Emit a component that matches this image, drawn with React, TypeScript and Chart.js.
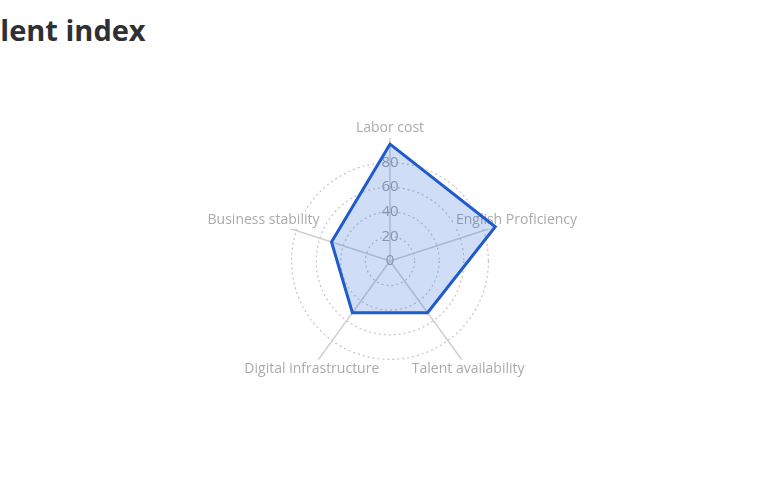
import React, { useEffect, useRef } from "react";
import { Chart, registerables } from "chart.js";

Chart.register(...registerables);

const TITLE = "Talent index";
const categories = [
  "Labor cost",
  "English Proficiency",
  "Talent availability",
  "Digital infrastructure",
  "Business stability",
];
const values = [95, 90, 52, 52, 50];
const scaleMin = 0;
const scaleMax = 100;
const scaleStep = 20;

const LABEL_FONT = '"Open Sans", sans-serif';

const pointLabelPlugin = {
  id: "centeredPointLabels",
  beforeDatasetsDraw(chart: any) {
    const scale = chart.scales.r;
    const ctx = chart.ctx;
    ctx.save();
    // zero tick at the centre
    ctx.font = `15px ${LABEL_FONT}`;
    ctx.fillStyle = "#a3a3a3";
    ctx.textAlign = "center";
    ctx.textBaseline = "middle";
    ctx.fillText(String(scaleMin), scale.xCenter, scale.yCenter);

    ctx.font = `14px ${LABEL_FONT}`;
    categories.forEach((label, i) => {
      const p = scale.getPointPosition(i, scale.drawingArea + 10);
      const w = ctx.measureText(label).width;
      ctx.fillStyle = "#ffffff";
      ctx.fillRect(p.x - w / 2 - 2, p.y - 9, w + 4, 18);
      ctx.fillStyle = "#ababab";
      ctx.fillText(label, p.x, p.y);
    });
    ctx.restore();
  },
};

export default function App() {
  const ref = useRef<HTMLCanvasElement | null>(null);

  useEffect(() => {
    if (!ref.current) return;
    const chart = new Chart(ref.current, {
      type: "radar",
      data: {
        labels: categories,
        datasets: [
          {
            data: values,
            backgroundColor: "rgba(37, 99, 220, 0.22)",
            borderColor: "#1f5bcc",
            borderWidth: 3,
            pointRadius: 0,
            pointHoverRadius: 0,
            fill: true,
          },
        ],
      },
      options: {
        animation: false,
        responsive: true,
        maintainAspectRatio: false,
        layout: { padding: { top: 128, bottom: 106, left: 0, right: 0 } },
        plugins: {
          legend: { display: false },
          tooltip: { enabled: false },
        },
        scales: {
          r: {
            min: scaleMin,
            max: scaleMax,
            ticks: {
              stepSize: scaleStep,
              showLabelBackdrop: false,
              color: "#a3a3a3",
              font: { size: 15, family: LABEL_FONT },
              callback: (v: any) => (v === scaleMax ? "" : String(v)),
            },
            pointLabels: { display: false },
            grid: {
              circular: true,
              color: (c: any) =>
                c.tick && c.tick.value === scaleMax ? "rgba(0,0,0,0)" : "#c4c4c4",
              lineWidth: 1.2,
            },
            border: { dash: [2, 3] },
            angleLines: { color: "#d0d0d0", lineWidth: 1.5 },
          },
        },
      },
      plugins: [pointLabelPlugin],
    });
    return () => chart.destroy();
  }, []);

  return (
    <div
      style={{
        position: "fixed",
        left: 0,
        top: 0,
        width: 780,
        height: 500,
        background: "#fff",
        overflow: "hidden",
      }}
    >
      <div
        style={{
          position: "absolute",
          left: -34,
          top: 10,
          fontFamily: LABEL_FONT,
          fontWeight: 700,
          fontSize: 29,
          color: "#2f3033",
          whiteSpace: "nowrap",
          lineHeight: "40px",
        }}
      >
        {TITLE}
      </div>
      <div style={{ position: "absolute", left: 0, top: 0, width: 780, height: 500 }}>
        <canvas ref={ref} />
      </div>
    </div>
  );
}
